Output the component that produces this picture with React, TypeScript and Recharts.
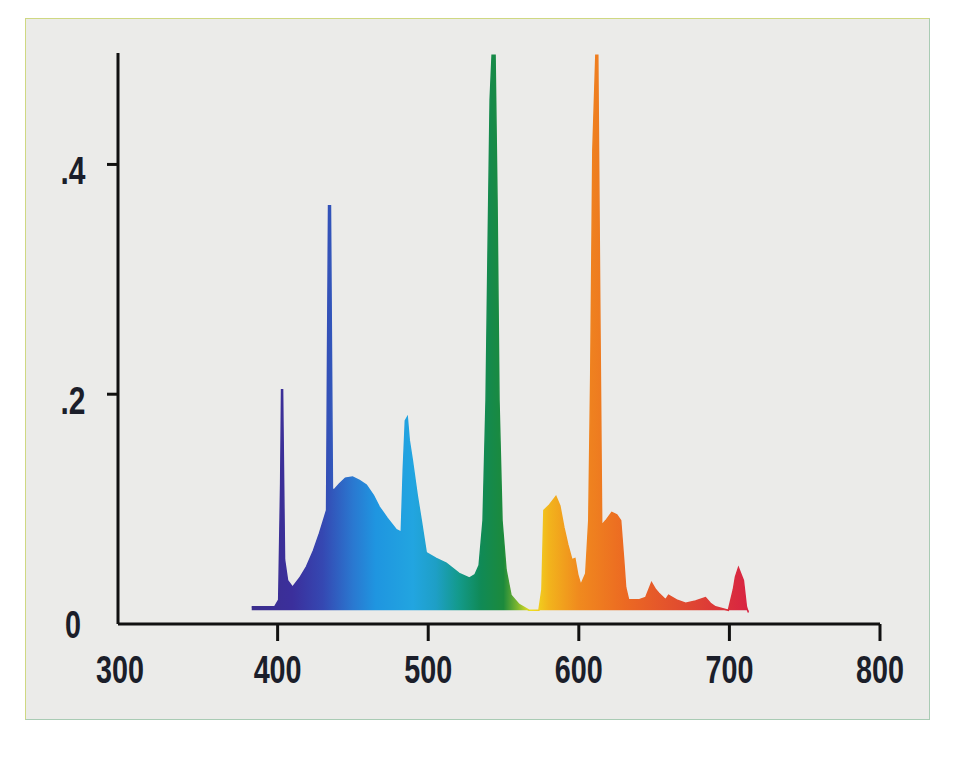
import React from "react";
import { AreaChart, Area, XAxis, YAxis } from "recharts";

// spectrum (wavelength nm -> relative intensity)
const wavelengths = [
  382.8, 398.0, 400.7, 402.0, 402.6, 403.3, 404.0, 404.6, 406.6, 409.9,
  414.6, 419.2, 423.8, 427.8, 432.5, 433.1, 433.8, 435.1, 435.8, 436.4,
  437.7, 441.1, 445.0, 449.7, 454.3, 458.9, 463.6, 467.5, 472.8, 478.8,
  482.1, 483.4, 484.8, 486.1, 487.4, 489.4, 492.7, 495.4, 498.7, 505.3,
  511.9, 520.5, 527.2, 531.1, 533.8, 536.4, 538.4, 539.7, 541.1, 542.4,
  544.4, 545.7, 547.0, 549.0, 551.7, 555.0, 560.3, 566.9, 573.5, 575.5,
  576.8, 580.1, 584.8, 587.4, 590.1, 592.7, 595.4, 597.4, 599.3, 601.3,
  604.6, 606.6, 607.9, 609.3, 611.3, 612.6, 613.9, 615.2, 617.9, 621.9,
  625.2, 627.8, 629.8, 631.1, 633.1, 639.7, 644.4, 648.3, 651.0, 653.0,
  657.6, 659.6, 664.9, 670.9, 677.5, 684.1, 687.4, 690.7, 699.3, 702.6,
  704.0, 706.0, 709.3, 711.3, 712.6,
];
const intensity = [
  0.015, 0.015, 0.021, 0.123, 0.204, 0.204, 0.123, 0.056, 0.038, 0.032,
  0.04, 0.05, 0.064, 0.079, 0.099, 0.23, 0.364, 0.364, 0.23, 0.117,
  0.117, 0.122, 0.127, 0.128, 0.125, 0.121, 0.112, 0.102, 0.092, 0.082,
  0.08, 0.134, 0.177, 0.18, 0.16, 0.143, 0.112, 0.09, 0.062, 0.057,
  0.053, 0.044, 0.04, 0.043, 0.051, 0.09, 0.195, 0.325, 0.456, 0.495,
  0.495, 0.369, 0.195, 0.09, 0.047, 0.025, 0.017, 0.012, 0.012, 0.03,
  0.099, 0.103, 0.111, 0.103, 0.084, 0.069, 0.056, 0.057, 0.043, 0.034,
  0.044, 0.09, 0.217, 0.412, 0.495, 0.495, 0.282, 0.086, 0.09, 0.097,
  0.095, 0.09, 0.056, 0.032, 0.021, 0.021, 0.023, 0.036, 0.03, 0.027,
  0.021, 0.025, 0.021, 0.018, 0.02, 0.023, 0.018, 0.015, 0.012, 0.03,
  0.041, 0.049, 0.038, 0.015, 0.01,
];
const baseline = 0.012;

const xTicks = [300, 400, 500, 600, 700, 800];
const yTicks = [0, 0.2, 0.4];

// colour of the fill along the wavelength
const colorWavelengths = [383, 410, 430, 450, 465, 490, 505, 520, 535, 550, 560, 568, 580, 600, 630, 670, 712];
const colorValues = [
  "#3b2e8c", "#3b2f9c", "#3548b2", "#2a78d0", "#1f95e0", "#22a5e0", "#1e9fc6", "#139a8c",
  "#108a56", "#1c8a3c", "#86ba2e", "#f0e020", "#f2b41c", "#f08a1e", "#ec6a22", "#e04a30", "#d82442",
];

const data = wavelengths.map((nm, i) => ({ nm, value: intensity[i] }));

const labelFont = {
  fontFamily: "'Liberation Sans', Arial, sans-serif",
  fontWeight: 700,
  fontSize: 38,
  fill: "#1b1e2a",
};

function XTick(props: any) {
  const { x, y, payload } = props;
  const v = payload.value;
  // the first label sits a little left of its wavelength, next to the y axis
  const shift = v === 300 ? -7 : 0;
  return (
    <g>
      {v >= 400 && <line x1={x} x2={x} y1={y} y2={y + 17} stroke="#111" strokeWidth={3} />}
      <text x={x + shift} y={y + 59} textAnchor="middle" textLength={48} lengthAdjust="spacingAndGlyphs" {...labelFont}>
        {String(v)}
      </text>
    </g>
  );
}

function YTick(props: any) {
  const { x, y, payload } = props;
  const v = payload.value;
  const label = v === 0 ? "0" : String(v).replace(/^0/, "");
  return (
    <g>
      {v > 0 && <line x1={x - 11} x2={x} y1={y} y2={y} stroke="#111" strokeWidth={3} />}
      <text
        x={x - 45}
        y={y + 14 + (v === 0 ? 0 : 6)}
        textAnchor="middle"
        textLength={v === 0 ? 16 : 25}
        lengthAdjust="spacingAndGlyphs"
        {...labelFont}
      >
        {label}
      </text>
    </g>
  );
}

export default function App() {
  const first = wavelengths[0];
  const last = wavelengths[wavelengths.length - 1];
  return (
    <div style={{ position: "absolute", left: 0, top: 0, width: 958, height: 762, background: "#ffffff" }}>
      <div
        style={{
          position: "absolute",
          left: 25,
          top: 18,
          width: 903,
          height: 700,
          background: "#ebebe9",
          borderTop: "1px solid #cfd882",
          borderLeft: "1px solid #cfd882",
          borderRight: "1px solid #a9cbb4",
          borderBottom: "1px solid #a9cbb4",
        }}
      />
      <div style={{ position: "absolute", left: 0, top: 0 }}>
        <AreaChart width={958} height={762} data={data} margin={{ top: 53, right: 78, bottom: 98, left: 58 }}>
          <defs>
            <linearGradient id="spectrum" x1="0" y1="0" x2="1" y2="0">
              {colorWavelengths.map((w, i) => (
                <stop key={w} offset={Math.min(1, Math.max(0, (w - first) / (last - first)))} stopColor={colorValues[i]} />
              ))}
            </linearGradient>
          </defs>
          <XAxis
            dataKey="nm"
            type="number"
            domain={[294, 800]}
            ticks={xTicks}
            allowDataOverflow
            height={40}
            tickSize={0}
            tickMargin={0}
            tickLine={false}
            axisLine={{ stroke: "#111", strokeWidth: 3 }}
            tick={<XTick />}
            interval={0}
          />
          <YAxis
            type="number"
            domain={[0, 0.497]}
            ticks={yTicks}
            allowDataOverflow
            width={60}
            tickSize={0}
            tickMargin={0}
            tickLine={false}
            axisLine={{ stroke: "#111", strokeWidth: 3 }}
            tick={<YTick />}
            interval={0}
          />
          <Area
            type="linear"
            dataKey="value"
            baseValue={baseline}
            fill="url(#spectrum)"
            fillOpacity={1}
            stroke="url(#spectrum)"
            strokeWidth={1.5}
            dot={false}
            activeDot={false}
            isAnimationActive={false}
          />
        </AreaChart>
      </div>
    </div>
  );
}
